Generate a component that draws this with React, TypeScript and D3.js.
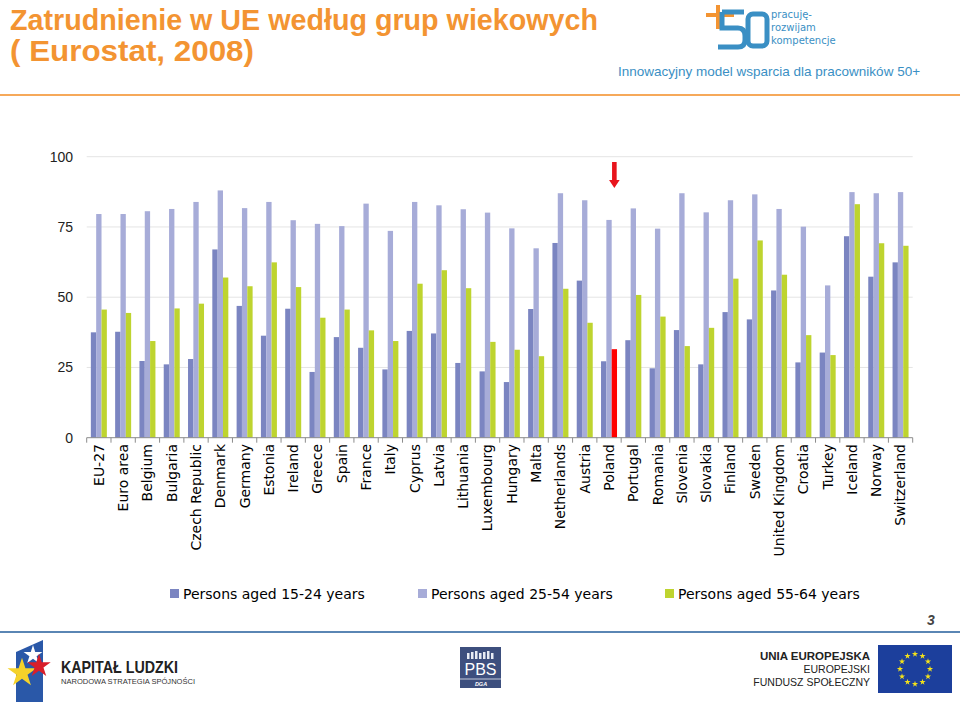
import React from 'react';
import * as d3 from 'd3';

// employment rate by age group, Eurostat 2008
const countries = [
  'EU-27', 'Euro area', 'Belgium', 'Bulgaria', 'Czech Republic', 'Denmark', 'Germany', 'Estonia',
  'Ireland', 'Greece', 'Spain', 'France', 'Italy', 'Cyprus', 'Latvia', 'Lithuania', 'Luxembourg',
  'Hungary', 'Malta', 'Netherlands', 'Austria', 'Poland', 'Portugal', 'Romania', 'Slovenia',
  'Slovakia', 'Finland', 'Sweden', 'United Kingdom', 'Croatia', 'Turkey', 'Iceland', 'Norway',
  'Switzerland',
];
const aged15to24 = [
  37.5, 37.7, 27.3, 26.1, 28.0, 67.0, 46.9, 36.3, 45.9, 23.4, 35.8, 32.0, 24.3, 38.0, 37.1, 26.6,
  23.6, 19.8, 45.8, 69.3, 55.9, 27.2, 34.7, 24.7, 38.3, 26.1, 44.7, 42.1, 52.4, 26.8, 30.3, 71.7,
  57.3, 62.4,
];
const aged25to54 = [
  79.6, 79.6, 80.6, 81.4, 83.9, 88.0, 81.7, 83.9, 77.4, 76.1, 75.3, 83.3, 73.6, 83.9, 82.7, 81.3,
  80.1, 74.5, 67.4, 87.0, 84.5, 77.5, 81.6, 74.4, 87.0, 80.2, 84.5, 86.6, 81.4, 75.1, 54.2, 87.4,
  87.0, 87.4,
];
const aged55to64 = [
  45.6, 44.4, 34.4, 46.0, 47.7, 57.0, 53.9, 62.4, 53.6, 42.7, 45.6, 38.2, 34.4, 54.8, 59.6, 53.2,
  34.1, 31.3, 29.0, 53.0, 40.9, 31.5, 50.8, 43.1, 32.6, 39.1, 56.6, 70.2, 58.0, 36.5, 29.4, 83.1,
  69.2, 68.3,
];
const seriesNames = ['Persons aged 15-24 years', 'Persons aged 25-54 years', 'Persons aged 55-64 years'];
const yTicks = [0, 25, 50, 75, 100];
const highlighted = 'Poland';

const colors = ['#7b85c1', '#a7acd8', '#bed42f'];
const labelFont = '"DejaVu Sans", Tahoma, sans-serif';
const arial = '"Liberation Sans", Arial, sans-serif';

const App = () => {
  const x = d3.scaleBand<string>().domain(countries).range([86.7, 912.7]);
  const inner = d3
    .scaleBand<number>()
    .domain([0, 1, 2])
    .range([(x.bandwidth() - 16) / 2, (x.bandwidth() + 16) / 2]);
  const y = d3.scaleLinear().domain([0, 100]).range([437.7, 156.7]);
  const series = [aged15to24, aged25to54, aged55to64];

  const star = d3.symbol().type(d3.symbolStar);
  const polandX = (x(highlighted) as number) + inner(2)! + inner.bandwidth() / 2;

  return (
    <div style={{ position: 'absolute', left: 0, top: 0 }}>
      <svg width={960} height={702} style={{ display: 'block', background: '#fff' }}>
        {/* title */}
        <g fill="#f39432" fontFamily={arial} fontWeight="bold">
          <text x={10} y={30} fontSize={29} textLength={588} lengthAdjust="spacingAndGlyphs">
            Zatrudnienie w UE według grup wiekowych
          </text>
          <text x={10} y={61} fontSize={29} textLength={244} lengthAdjust="spacingAndGlyphs">
            ( Eurostat, 2008)
          </text>
        </g>

        {/* project logo, top right */}
        <g>
          <rect x={716} y={5} width={4} height={24} fill="#f39432" />
          <rect x={706} y={13} width={28} height={4} fill="#f39432" />
          <path d="M722,12 H744 M722,12 V28 H738 Q745,28 745,36 V40 Q745,47 738,47 H718" fill="none" stroke="#3a8fc4" strokeWidth={5} />
          <rect x={748} y={14} width={19} height={32} rx={5} fill="none" stroke="#3a8fc4" strokeWidth={5} />
          <g fill="#3a8fc4" fontFamily={labelFont} fontSize={10}>
            <text x={771} y={18}>pracuję-</text>
            <text x={771} y={31}>rozwijam</text>
            <text x={771} y={44}>kompetencje</text>
          </g>
          <text x={618} y={76} fill="#3a8fc4" fontFamily={arial} fontSize={13.5}>
            Innowacyjny model wsparcia dla pracowników 50+
          </text>
        </g>
        <line x1={0} x2={960} y1={95} y2={95} stroke="#f6a95a" strokeWidth={2} />

        {/* gridlines and y axis */}
        {yTicks.map((t) => (
          <g key={t}>
            {t > 0 && <line x1={86.7} x2={912.7} y1={y(t)} y2={y(t)} stroke="#e4e4e4" strokeWidth={1} />}
            <text x={73} y={y(t)} dy="0.35em" textAnchor="end" fontFamily={arial} fontSize={14} fill="#222">
              {t}
            </text>
          </g>
        ))}

        {/* bars */}
        {countries.map((c, i) => (
          <g key={c} transform={`translate(${x(c)},0)`}>
            {series.map((s, k) => (
              <rect
                key={k}
                x={inner(k)}
                y={y(s[i])}
                width={inner.bandwidth()}
                height={y(0) - y(s[i])}
                fill={c === highlighted && k === 2 ? '#ff0000' : colors[k]}
              />
            ))}
          </g>
        ))}

        {/* x axis */}
        <line x1={86.7} x2={912.7} y1={y(0)} y2={y(0)} stroke="#8c8c8c" strokeWidth={1} />
        {countries.concat(['']).map((c, i) => {
          const xx = 86.7 + i * x.step();
          return <line key={'t' + i} x1={xx} x2={xx} y1={y(0)} y2={y(0) + 5} stroke="#8c8c8c" />;
        })}
        {countries.map((c) => (
          <text
            key={'l' + c}
            transform={`translate(${(x(c) as number) + x.bandwidth() / 2},444) rotate(-90)`}
            dy="0.35em"
            textAnchor="end"
            fontFamily={labelFont}
            fontSize={14}
            fill="#000"
          >
            {c}
          </text>
        ))}

        {/* arrow pointing at Poland */}
        <path
          d={`M${polandX - 2.3},162 H${polandX + 2.3} V180 H${polandX + 5.3} L${polandX},188 L${polandX - 5.3},180 H${polandX - 2.3} Z`}
          fill="#e8141c"
        />

        {/* legend */}
        {seriesNames.map((n, k) => {
          const lx = [170, 418, 665][k];
          return (
            <g key={n}>
              <rect x={lx} y={589} width={9} height={9} fill={colors[k]} />
              <text x={lx + 13} y={594} dy="0.35em" fontFamily={labelFont} fontSize={14} fill="#000">
                {n}
              </text>
            </g>
          );
        })}

        {/* footer */}
        <text x={927} y={625} fontFamily={arial} fontSize={14} fontWeight="bold" fontStyle="italic" fill="#444">
          3
        </text>
        <line x1={0} x2={960} y1={632} y2={632} stroke="#5a86b4" strokeWidth={2} />

        {/* Kapitał Ludzki */}
        <path d="M16,652 L43,640 L43,702 L16,702 Z" fill="#2a58a8" />
        <path d={star.size(110)() as string} transform="translate(33,655)" fill="#ffffff" />
        <path d={star.size(260)() as string} transform="translate(22,673)" fill="#f5d22a" />
        <path d={star.size(170)() as string} transform="translate(39,666)" fill="#d81e2a" />
        <text x={61} y={673} fontFamily={arial} fontSize={17} fontWeight="bold" fill="#222" textLength={117} lengthAdjust="spacingAndGlyphs">
          KAPITAŁ LUDZKI
        </text>
        <text x={61} y={684} fontFamily={arial} fontSize={7.5} fill="#333" textLength={134} lengthAdjust="spacingAndGlyphs">
          NARODOWA STRATEGIA SPÓJNOŚCI
        </text>

        {/* PBS */}
        <rect x={460} y={647} width={41} height={41} fill="#3d4f7e" />
        <g fill="#e8ecf4">
          {d3.range(7).map((j) => (
            <rect key={j} x={467 + j * 4} y={653 - (j % 3)} width={2.5} height={6 + (j % 3)} />
          ))}
        </g>
        <text x={480.5} y={675} textAnchor="middle" fontFamily={arial} fontSize={16} fill="#ffffff">
          PBS
        </text>
        <line x1={460} x2={501} y1={679} y2={679} stroke="#e8ecf4" strokeWidth={0.8} />
        <text x={481} y={686} textAnchor="middle" fontFamily={arial} fontSize={5.5} fontWeight="bold" fontStyle="italic" fill="#fff">
          DGA
        </text>

        {/* EU */}
        <g fontFamily={arial} fill="#222" textAnchor="end">
          <text x={870} y={660} fontSize={11.5} fontWeight="bold">UNIA EUROPEJSKA</text>
          <text x={870} y={673} fontSize={10.5}>EUROPEJSKI</text>
          <text x={870} y={686} fontSize={10.5}>FUNDUSZ SPOŁECZNY</text>
        </g>
        <rect x={878} y={645} width={74} height={48} fill="#1c3f9c" />
        {d3.range(12).map((j) => {
          const a = (j / 12) * 2 * Math.PI;
          return (
            <path
              key={'s' + j}
              d={star.size(12)() as string}
              transform={`translate(${915 + 15 * Math.sin(a)},${669 - 15 * Math.cos(a)})`}
              fill="#f4e21a"
            />
          );
        })}
      </svg>
    </div>
  );
};

export default App;
